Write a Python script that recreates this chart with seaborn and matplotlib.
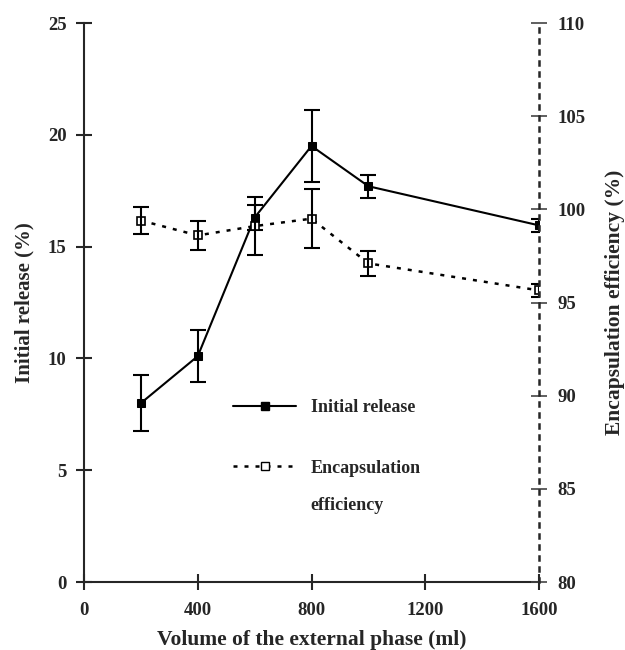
import numpy as np
import pandas as pd
import matplotlib
matplotlib.use("Agg")
import matplotlib.pyplot as plt
from matplotlib.lines import Line2D
import seaborn as sns

# values
volume = [200, 400, 600, 800, 1000, 1600]
initial_release = [8.0, 10.1, 16.3, 19.5, 17.7, 15.95]
initial_release_err = [1.25, 1.15, 0.55, 1.62, 0.52, 0.3]
encap_eff = [99.4, 98.6, 99.1, 99.5, 97.1, 95.65]
encap_eff_err = [0.73, 0.78, 1.56, 1.6, 0.67, 0.35]

x_ticks = [0, 400, 800, 1200, 1600]
left_ticks = [0, 5, 10, 15, 20, 25]
right_ticks = [80, 85, 90, 95, 100, 105, 110]

sns.set_style("ticks")
plt.rcParams['font.family'] = ['Liberation Serif', 'DejaVu Serif']
plt.rcParams['font.weight'] = 'bold'
plt.rcParams['axes.labelweight'] = 'bold'

df = pd.DataFrame({"volume": volume, "ir": initial_release, "ee": encap_eff})
dots = (0, (1.6, 2.8))

fig = plt.figure(figsize=(6.25, 6.5), dpi=100)
ax = fig.add_axes([0.1344, 0.1046, 0.728, 0.86])
ax2 = ax.twinx()

sns.lineplot(data=df, x="volume", y="ir", ax=ax, color="black", linewidth=1.5,
             marker="s", markersize=6, markeredgecolor="black", markerfacecolor="black")
ax.errorbar(volume, initial_release, yerr=initial_release_err, fmt="none",
            ecolor="black", elinewidth=1.5, capsize=5.5, capthick=1.5)

sns.lineplot(data=df, x="volume", y="ee", ax=ax2, color="black", linewidth=1.8,
             linestyle=dots, marker="s", markersize=6,
             markeredgecolor="black", markerfacecolor="white", markeredgewidth=1.2)
ax2.errorbar(volume, encap_eff, yerr=encap_eff_err, fmt="none",
             ecolor="black", elinewidth=1.5, capsize=5.5, capthick=1.5)

ax.set_xlim(0, 1600)
ax.set_ylim(0, 25)
ax2.set_ylim(80, 110)
ax.set_xticks(x_ticks)
ax.set_yticks(left_ticks)
ax2.set_yticks(right_ticks)

ax.spines['top'].set_visible(False)
ax2.spines['top'].set_visible(False)
ax.spines['right'].set_visible(False)
for s in ['left', 'bottom']:
    ax.spines[s].set_linewidth(1.5)
ax2.spines['left'].set_visible(False)
ax2.spines['bottom'].set_visible(False)
ax2.spines['right'].set_linewidth(1.8)
ax2.spines['right'].set_linestyle(dots)

ax.tick_params(axis='x', direction='inout', length=11, width=1.5, labelsize=13.5, pad=9)
ax.tick_params(axis='y', direction='inout', length=11, width=1.5, labelsize=13.5, pad=7)
ax2.tick_params(axis='y', direction='inout', length=11, width=1.2, labelsize=13.5,
                color="#444444", pad=8)

ax.set_xlabel("Volume of the external phase (ml)", fontsize=15.5, fontweight='bold', labelpad=8)
ax.set_ylabel("Initial release (%)", fontsize=15, fontweight='bold', labelpad=10)
ax2.set_ylabel("Encapsulation efficiency (%)", fontsize=15.5, fontweight='bold', labelpad=14)

handles = [
    Line2D([], [], color="black", linewidth=1.5, marker="s", markersize=6),
    Line2D([], [], color="black", linewidth=1.8, linestyle=dots, marker="s",
           markersize=6, markerfacecolor="white"),
]
ax.legend(handles, ["Initial release", "Encapsulation"], loc="upper left",
          bbox_to_anchor=(0.292, 0.356), frameon=False, handlelength=3.5,
          handletextpad=0.8, labelspacing=2.4, prop={'weight': 'bold', 'size': 13})
ax.text(0.497, 0.1377, "efficiency", transform=ax.transAxes, ha="left", va="center",
        fontsize=13, fontweight="bold")

fig.savefig("out.png", dpi=100)
